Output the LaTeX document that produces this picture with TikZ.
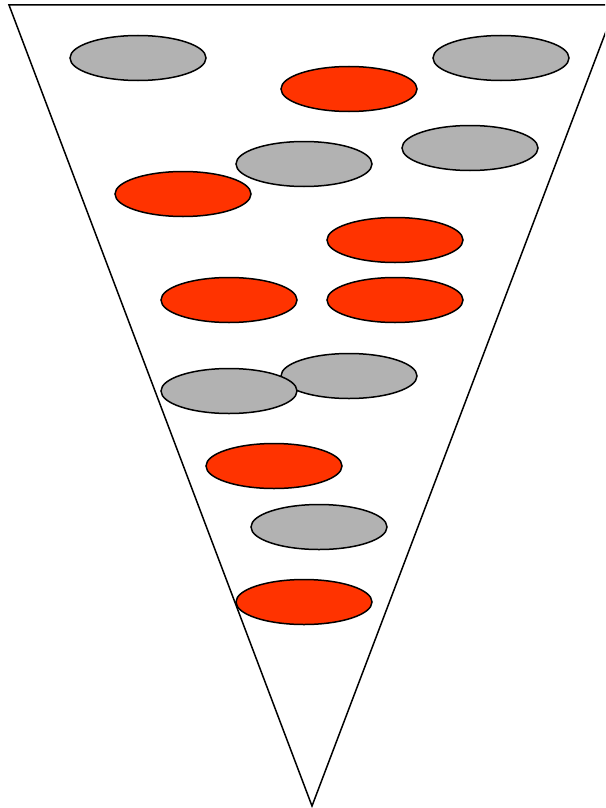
\documentclass[tikz,border=0pt]{standalone}
\usetikzlibrary{shapes.geometric}
\begin{document}
\begin{tikzpicture}[x=1pt,y=-1pt,
  grayell/.style={draw=black,line width=1.5pt,fill={rgb,255:red,178;green,178;blue,178},ellipse,minimum width=136pt,minimum height=45pt,inner sep=0pt},
  redell/.style={draw=black,line width=1.5pt,fill={rgb,255:red,255;green,51;blue,0},ellipse,minimum width=136pt,minimum height=45pt,inner sep=0pt}]
\useasboundingbox (0,0) rectangle (605,808);
\begin{scope}
\clip (0,0) rectangle (605,808);
\draw[line width=1.5pt] (9,5) -- (616,5) -- (312,806) -- cycle;
\end{scope}
\node[grayell] (g1) at (138,58) {};
\node[grayell] (g2) at (501,58) {};
\node[redell] (r1) at (349,89) {};
\node[grayell] (g4) at (470,148) {};
\node[grayell] (g3) at (304,164) {};
\node[redell] (r2) at (183,194) {};
\node[redell] (r3) at (395,240) {};
\node[redell] (r4) at (229,300) {};
\node[redell] (r5) at (395,300) {};
\node[grayell] (g6) at (349,376) {};
\node[grayell] (g5) at (229,391) {};
\node[redell] (r6) at (274,466) {};
\node[grayell] (g7) at (319,527) {};
\node[redell] (r7) at (304,602) {};
\end{tikzpicture}
\end{document}
